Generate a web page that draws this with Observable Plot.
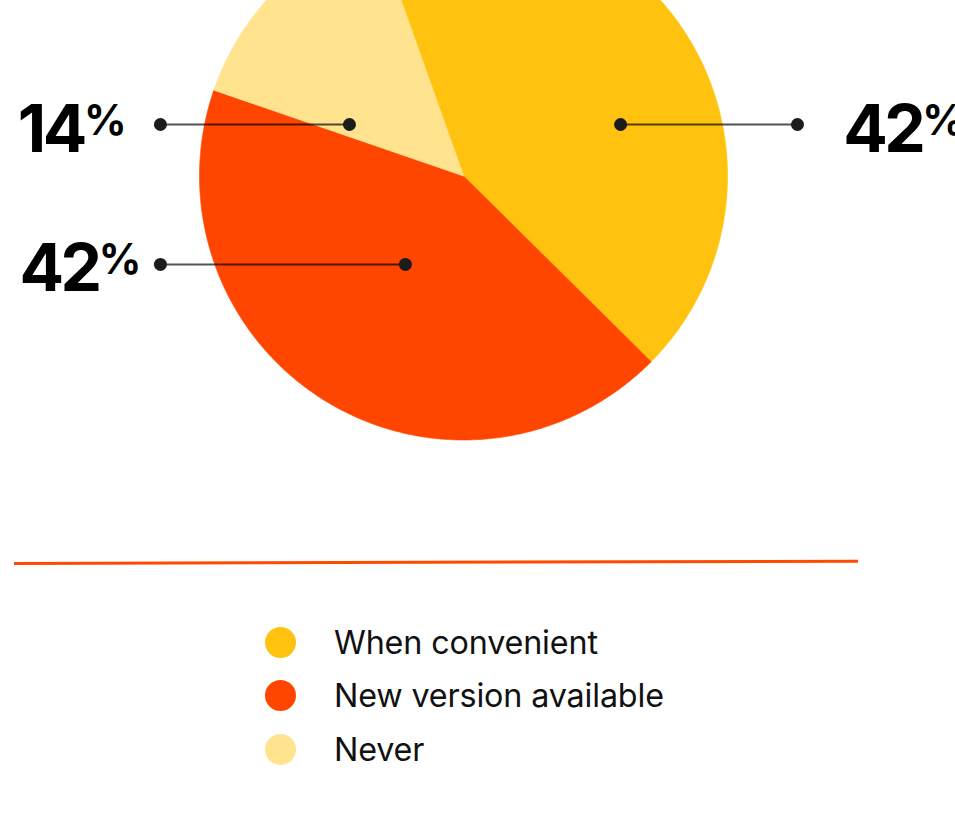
<!DOCTYPE html>
<html>
<head>
<meta charset="utf-8">
<script src="https://cdn.jsdelivr.net/npm/d3@7"></script>
<script src="https://cdn.jsdelivr.net/npm/@observablehq/plot@0.6"></script>
<style>
  html, body { margin: 0; padding: 0; background: #fff; }
  body { font-family: Inter, "Noto Sans", sans-serif; }
  #wrap { position: relative; width: 955px; height: 829px; overflow: hidden; }
  #chart { position: absolute; left: 0; top: 0; }
  #chart svg { display: block; overflow: hidden !important; }
  #divider { position: absolute; left: 14px; top: 562px; width: 844px; height: 3px;
             background: #FF4A00; transform-origin: left center; transform: rotate(-0.16deg); }
  #legend { position: absolute; left: 265px; top: 616px; }
  .row { display: flex; align-items: center; height: 53.3px; }
  .sw { width: 31px; height: 31px; border-radius: 50%; flex: none; }
  .lab { margin-left: 38px; font-size: 32.3px; color: #111; white-space: nowrap; letter-spacing: -0.15px; }
</style>
</head>
<body>
<div id="wrap">
  <div id="chart"></div>
  <div id="divider"></div>
  <div id="legend"></div>
</div>
<script>
// ---- data ----
const categories = ["When convenient", "New version available", "Never"];
const values = [42, 42, 14];
const colors = ["#FFC20E", "#FF4600", "#FFE38F"];

// ---- layout of the annotations (pie units: radius = 1, origin at pie centre) ----
const labelCategories = ["When convenient", "Never", "New version available"];
const labelLineY = [0.195, 0.195, -0.335];
const labelInnerX = [0.595, -0.432, -0.220];
const labelOuterX = [1.265, -1.148, -1.148];
const labelTextX = [1.438, -1.688, -1.682];

const startDeg = -19.6;

// pie geometry via d3.pie
const pieData = categories.map((c, i) => ({category: c, value: values[i]}));
const start = startDeg * Math.PI / 180;
const arcs = d3.pie().sort(null).value(d => d.value).startAngle(start).endAngle(start + 2 * Math.PI)(pieData);
const slicePts = [];
for (const a of arcs) {
  const c = a.data.category;
  slicePts.push({category: c, u: 0, v: 0});
  const n = Math.max(2, Math.ceil((a.endAngle - a.startAngle) / (Math.PI / 360)));
  for (let k = 0; k <= n; k++) {
    const t = a.startAngle + (a.endAngle - a.startAngle) * k / n;
    slicePts.push({category: c, u: Math.sin(t), v: Math.cos(t)});
  }
}

const labels = labelCategories.map((c, i) => ({
  category: c,
  value: values[categories.indexOf(c)],
  lineY: labelLineY[i],
  inner: labelInnerX[i],
  outer: labelOuterX[i],
  textX: labelTextX[i]
}));

const W = 955, H = 545, R = 264, CX = 463, CY = 175.5;

const chart = Plot.plot({
  width: W,
  height: H,
  margin: 0,
  style: {background: "transparent", overflow: "hidden"},
  x: {domain: [-CX / R, (W - CX) / R], axis: null},
  y: {domain: [(CY - H) / R, CY / R], axis: null},
  color: {domain: categories, range: colors},
  marks: [
    Plot.line(slicePts, {x: "u", y: "v", z: "category", fill: "category", stroke: "category",
                         strokeWidth: 0.6, curve: "linear-closed", clip: true}),
    Plot.link(labels, {x1: "inner", x2: "outer", y1: "lineY", y2: "lineY",
                       stroke: "#000", strokeOpacity: 0.68, strokeWidth: 2}),
    Plot.dot(labels, {x: "inner", y: "lineY", r: 6.5, fill: "#1c1c1c", stroke: null}),
    Plot.dot(labels, {x: "outer", y: "lineY", r: 6.5, fill: "#1c1c1c", stroke: null}),
    Plot.text(labels, {x: "textX", y: "lineY", text: d => d.value + "%", textAnchor: "start",
                       lineAnchor: "bottom", dy: 27, fontSize: 66, fontWeight: 700,
                       fontFamily: "Inter", fill: "#000"})
  ]
});
document.getElementById("chart").appendChild(chart);

// superscript the percent sign
chart.querySelectorAll('g[aria-label="text"] text').forEach(t => {
  const s = t.textContent;
  const num = s.replace("%", "");
  t.textContent = "";
  const ns = "http://www.w3.org/2000/svg";
  const a = document.createElementNS(ns, "tspan");
  a.textContent = num;
  a.setAttribute("letter-spacing", "-3.5");
  const b = document.createElementNS(ns, "tspan");
  b.textContent = "%";
  b.setAttribute("font-size", "42");
  b.setAttribute("font-weight", "700");
  b.setAttribute("dy", "-17");
  b.setAttribute("dx", "0");
  t.appendChild(a);
  t.appendChild(b);
});

// legend
const legend = document.getElementById("legend");
categories.forEach((c, i) => {
  const row = document.createElement("div");
  row.className = "row";
  const sw = document.createElement("div");
  sw.className = "sw";
  sw.style.background = colors[i];
  const lab = document.createElement("div");
  lab.className = "lab";
  lab.textContent = c;
  row.appendChild(sw);
  row.appendChild(lab);
  legend.appendChild(row);
});
</script>
</body>
</html>
